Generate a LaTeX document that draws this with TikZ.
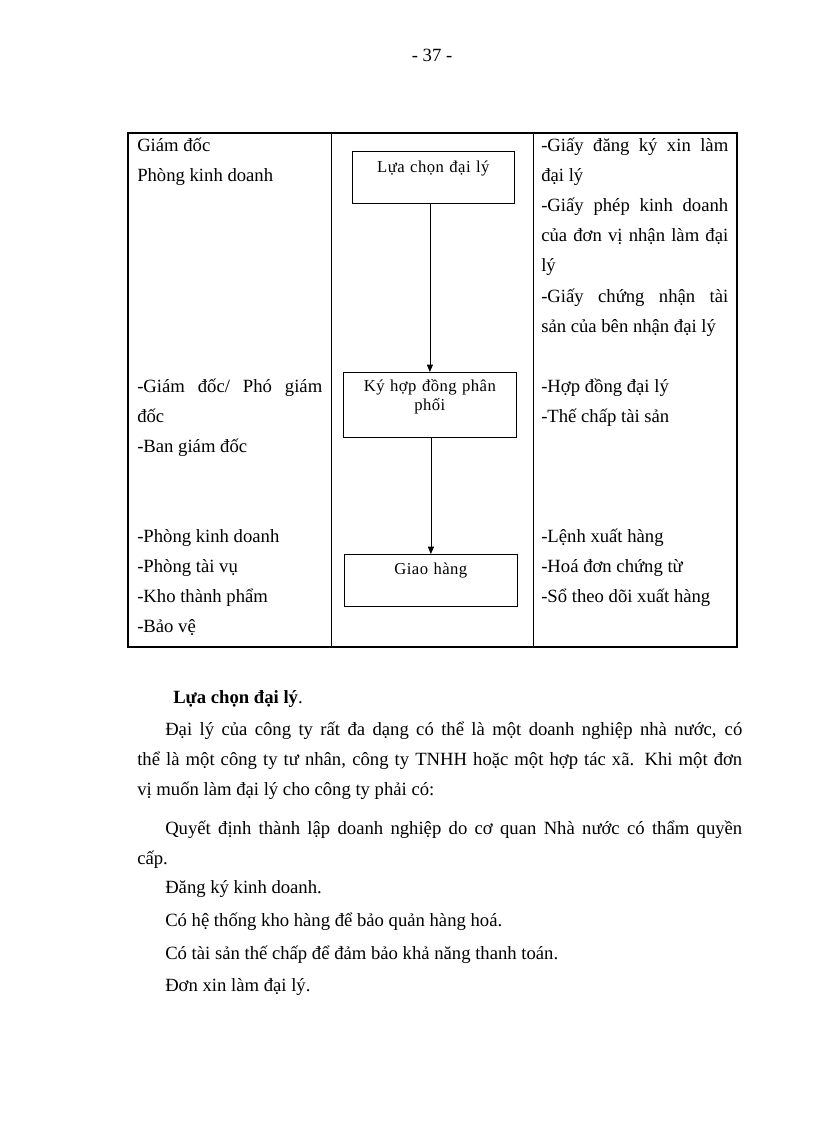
\documentclass[tikz,border=0pt]{standalone}
\usepackage{fontspec}
\setmainfont{Liberation Serif}
\newfontfamily\boxfont[LetterSpace=2.5]{Liberation Serif}
\usetikzlibrary{arrows.meta,positioning}
\hyphenpenalty=10000
\exhyphenpenalty=10000
\tikzset{
  tableframe/.style={draw=black, line width=1.8pt},
  tablerule/.style={draw=black, line width=0.6pt},
  flowbox/.style={
    draw=black,
    line width=0.6pt,
    fill=white,
    align=center,
    anchor=north west,
    inner xsep=2pt,
    inner ysep=0pt,
    text width=125.75pt,
    font=\boxfont\fontsize{12.5}{14.5}\selectfont
  },
  arrow/.style={-{Triangle[length=5.5pt,width=4.5pt]}, line width=0.6pt},
  cellnote/.style={anchor=base west, inner sep=0pt, align=justify, text width=138.75pt, font=\fontsize{14}{22.5}\selectfont},
  bodytext/.style={anchor=base west, inner sep=0pt, align=justify, text width=453.75pt, font=\fontsize{14}{22.5}\selectfont}
}

\begin{document}
\begin{tikzpicture}[x=0.75pt, y=-0.75pt]
  \fill[white] (0,0) rectangle (816,1123);
  \useasboundingbox (0,0) rectangle (816,1123);
  \node[anchor=base, inner sep=0pt, font=\fontsize{14}{16}\selectfont] (trang) at (432,62) {- 37 -};
  % bang quy trinh
  \draw[tableframe] (128,133) rectangle (737,647);
  \draw[tablerule] (331,133) -- (331,647);
  \draw[tablerule] (533,133) -- (533,647);
  \node[flowbox, text width=117.5pt, text height=15.5pt, text depth=23.5pt] (chon) at (352,151) {Lựa chọn đại lý};
  \node[flowbox, text height=14.25pt, text depth=34.5pt] (kyhd) at (343,372) {Ký hợp đồng phân\\phối};
  \node[flowbox, text height=15pt, text depth=24pt] (giao) at (344,554) {Giao hàng};
  \draw[arrow] (kyhd.north |- chon.south) -- (kyhd.north);
  \draw[arrow] (giao.north |- kyhd.south) -- (giao.north);
  \node[cellnote] (bophan1) at (137,152) {Giám đốc\\Phòng kinh doanh};
  \node[cellnote, text width=140.25pt] (giayto1) at (541,152) {-Giấy đăng ký xin làm\linebreak đại lý\\-Giấy phép kinh doanh\linebreak của đơn vị nhận làm đại\linebreak lý\\-Giấy chứng nhận tài\linebreak sản của bên nhận đại lý};
  \node[cellnote] (bophan2) at (137,392) {-Giám đốc/ Phó giám\linebreak đốc\\-Ban giám đốc};
  \node[cellnote, text width=140.25pt] (giayto2) at (541,392) {-Hợp đồng đại lý\\-Thế chấp tài sản};
  \node[cellnote] (bophan3) at (137,542) {-Phòng kinh doanh\\-Phòng tài vụ\\-Kho thành phẩm\\-Bảo vệ};
  \node[cellnote, text width=140.25pt] (giayto3) at (541,542) {-Lệnh xuất hàng\\-Hoá đơn chứng từ\\-Sổ theo dõi xuất hàng};
  % phan van ban
  \node[anchor=base west, inner sep=0pt, font=\fontsize{14}{22.5}\selectfont] (tieude) at (173,703) {\textbf{Lựa chọn đại lý}.};
  \node[bodytext] (doan1) at (137,735) {\hspace*{21pt}Đại lý của công ty rất đa dạng có thể là một doanh nghiệp nhà nước, có\linebreak thể là một công ty tư nhân, công ty TNHH hoặc một hợp tác xã. Khi một đơn\linebreak vị muốn làm đại lý cho công ty phải có:};
  \node[bodytext] (doan2) at (137,834) {\hspace*{21pt}Quyết định thành lập doanh nghiệp do cơ quan Nhà nước có thẩm quyền\linebreak cấp.};
  \node[bodytext] (doan3) at (137,893) {\hspace*{21pt}Đăng ký kinh doanh.};
  \node[bodytext] (doan4) at (137,926) {\hspace*{21pt}Có hệ thống kho hàng để bảo quản hàng hoá.};
  \node[bodytext] (doan5) at (137,959) {\hspace*{21pt}Có tài sản thế chấp để đảm bảo khả năng thanh toán.};
  \node[bodytext] (doan6) at (137,991) {\hspace*{21pt}Đơn xin làm đại lý.};
\end{tikzpicture}
\end{document}
